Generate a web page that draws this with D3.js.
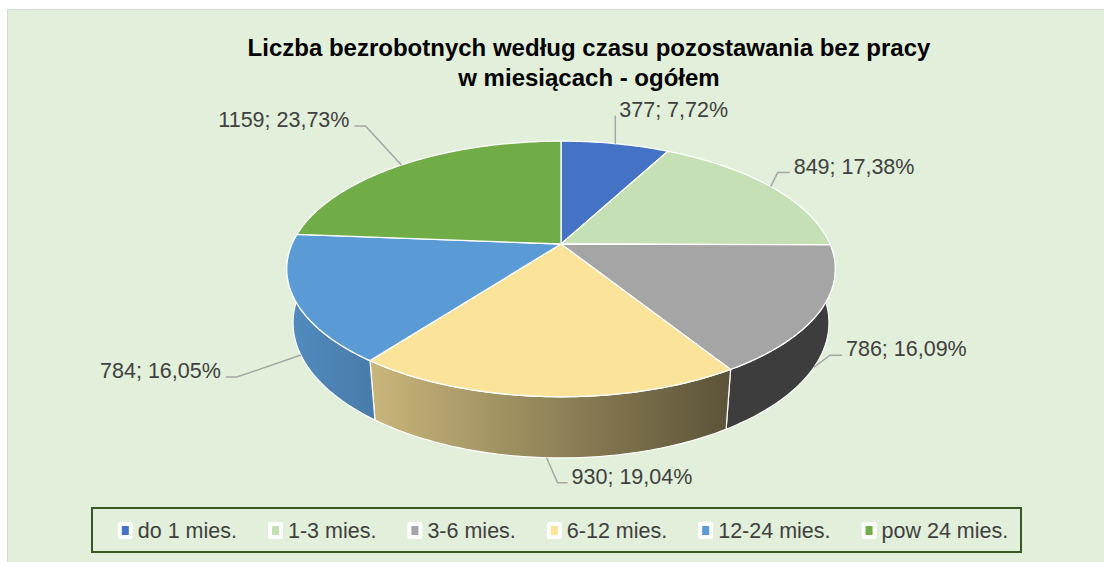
<!DOCTYPE html>
<html>
<head>
<meta charset="utf-8">
<script src="https://cdn.jsdelivr.net/npm/d3@7"></script>
<style>
body { margin: 0; background: #fff; }
text { font-family: "Liberation Sans", Arial, sans-serif; }
</style>
</head>
<body>
<div id="chart"></div>
<script>
var categories = ["do 1 mies.", "1-3 mies.", "3-6 mies.", "6-12 mies.", "12-24 mies.", "pow 24 mies."];
var values = [377, 849, 786, 930, 784, 1159];
var colors = ["#4472C4", "#C5E0B4", "#A5A5A5", "#FBE499", "#5B9BD5", "#70AD47"];
var titleLines = ["Liczba bezrobotnych według czasu pozostawania bez pracy", "w miesiącach - ogółem"];

var width = 1104, height = 562;

// pie center on screen + simple perspective camera
var cx = 561, cy = 244;
var tilt = 27.2 * Math.PI / 180,
    dist = 4.556,
    focal = 1225.5,
    thick = 0.226;

function project(a, y) {
  var X = Math.sin(a), Z = Math.cos(a);
  var yc = y * Math.cos(tilt) + Z * Math.sin(tilt);
  var zc = dist + Z * Math.cos(tilt) - y * Math.sin(tilt);
  return [cx + focal * X / zc, cy - focal * yc / zc];
}

function arcPoints(a0, a1, y) {
  var n = Math.max(2, Math.ceil((a1 - a0) / 0.015));
  return d3.range(n + 1).map(function(i) { return project(a0 + (a1 - a0) * i / n, y); });
}

var line = d3.line();
var total = d3.sum(values);
var fmtPct = d3.format(".2f");
function labelText(v) { return v + "; " + fmtPct(v / total * 100).replace(".", ",") + "%"; }

var svg = d3.select("#chart").append("svg")
    .attr("width", width)
    .attr("height", height);

// chart area background
svg.append("rect")
    .attr("x", 7.5).attr("y", 9.5)
    .attr("width", width).attr("height", height)
    .attr("fill", "#E2EFDA")
    .attr("stroke", "#D9D9D9")
    .attr("stroke-width", 1);

// title
svg.append("g").selectAll("text")
    .data(titleLines)
    .enter().append("text")
    .attr("x", 589)
    .attr("y", function(d, i) { return 56 + i * 30; })
    .attr("text-anchor", "middle")
    .style("font-weight", "bold")
    .style("font-size", "24px")
    .attr("fill", "#000")
    .text(function(d) { return d; });

var arcs = d3.pie().sort(null).value(function(d) { return d; })(values);

// horizontal extent of the rim for side shading
var rim = arcPoints(0, 2 * Math.PI, 0);
var xExt = d3.extent(rim, function(p) { return p[0]; });
var shade = [[0, 0.9], [0.8, 0.37], [1, 0.37]];

var defs = svg.append("defs");
arcs.forEach(function(d, i) {
  var g = defs.append("linearGradient")
      .attr("id", "side" + i)
      .attr("gradientUnits", "userSpaceOnUse")
      .attr("x1", xExt[0]).attr("x2", xExt[1])
      .attr("y1", 0).attr("y2", 0);
  var c = d3.rgb(colors[i]);
  shade.forEach(function(s) {
    g.append("stop")
        .attr("offset", s[0])
        .attr("stop-color", d3.rgb(c.r * s[1], c.g * s[1], c.b * s[1]).formatHex());
  });
});

// side walls (front half only)
var sides = arcs.map(function(d, i) {
  return {i: i, a0: Math.max(d.startAngle, Math.PI / 2), a1: Math.min(d.endAngle, 3 * Math.PI / 2)};
}).filter(function(s) { return s.a0 < s.a1; });

svg.append("g").selectAll("path")
    .data(sides)
    .enter().append("path")
    .attr("d", function(s) {
      var pts = arcPoints(s.a0, s.a1, 0).concat(arcPoints(s.a0, s.a1, -thick).reverse());
      return line(pts) + "Z";
    })
    .attr("fill", function(s) { return "url(#side" + s.i + ")"; })
    .attr("stroke", "#fff")
    .attr("stroke-width", 1.2)
    .attr("stroke-linejoin", "round");

// top faces
svg.append("g").selectAll("path")
    .data(arcs)
    .enter().append("path")
    .attr("d", function(d) {
      return line([[cx, cy]].concat(arcPoints(d.startAngle, d.endAngle, 0))) + "Z";
    })
    .attr("fill", function(d, i) { return colors[i]; })
    .attr("stroke", "#fff")
    .attr("stroke-width", 1.3)
    .attr("stroke-linejoin", "round");

// data labels with leader lines: elbow offset from the slice edge point, hook direction
var labelOffsets = [[0, -28, 0], [7, -14, 12], [16, -12, 12], [11, 25, 10], [-64, 22, -11], [-36, -39, -11]];

var labels = svg.append("g");
arcs.forEach(function(d, i) {
  var mid = (d.startAngle + d.endAngle) / 2;
  var front = Math.cos(mid) < 0;
  var p = project(mid, front ? -thick : 0);
  var o = labelOffsets[i];
  var e = [p[0] + o[0], p[1] + o[1]];
  var h = [e[0] + o[2], e[1]];
  labels.append("path")
      .attr("d", line([p, e, h]))
      .attr("fill", "none")
      .attr("stroke", "#A6A6A6")
      .attr("stroke-width", 1.5);
  var right = o[2] >= 0;
  labels.append("text")
      .attr("x", h[0] + (right ? 4 : -5))
      .attr("y", h[1] + 1)
      .attr("text-anchor", right ? "start" : "end")
      .style("font-size", "21.5px")
      .attr("fill", "#404040")
      .text(labelText(values[i]));
});

// legend
svg.append("rect")
    .attr("x", 92).attr("y", 508)
    .attr("width", 929).attr("height", 44)
    .attr("fill", "none")
    .attr("stroke", "#385723")
    .attr("stroke-width", 2);

var legend = svg.append("g");
var items = legend.selectAll("g")
    .data(categories)
    .enter().append("g");

items.append("rect")
    .attr("x", 0).attr("y", 522)
    .attr("width", 15).attr("height", 17)
    .attr("rx", 2)
    .attr("fill", "#fff");
items.append("rect")
    .attr("x", 4).attr("y", 526)
    .attr("width", 7).attr("height", 9)
    .attr("fill", function(d, i) { return colors[i]; });
items.append("text")
    .attr("x", 20)
    .attr("y", 538)
    .style("font-size", "21.5px")
    .attr("fill", "#404040")
    .text(function(d) { return d; });

var xpos = 0, starts = [];
items.each(function() {
  starts.push(xpos);
  xpos += 20 + d3.select(this).select("text").node().getComputedTextLength() + 31;
});
var legendW = xpos - 31;
var legendX = 563 - legendW / 2;
items.attr("transform", function(d, i) { return "translate(" + (legendX + starts[i]) + ",0)"; });
</script>
</body>
</html>
